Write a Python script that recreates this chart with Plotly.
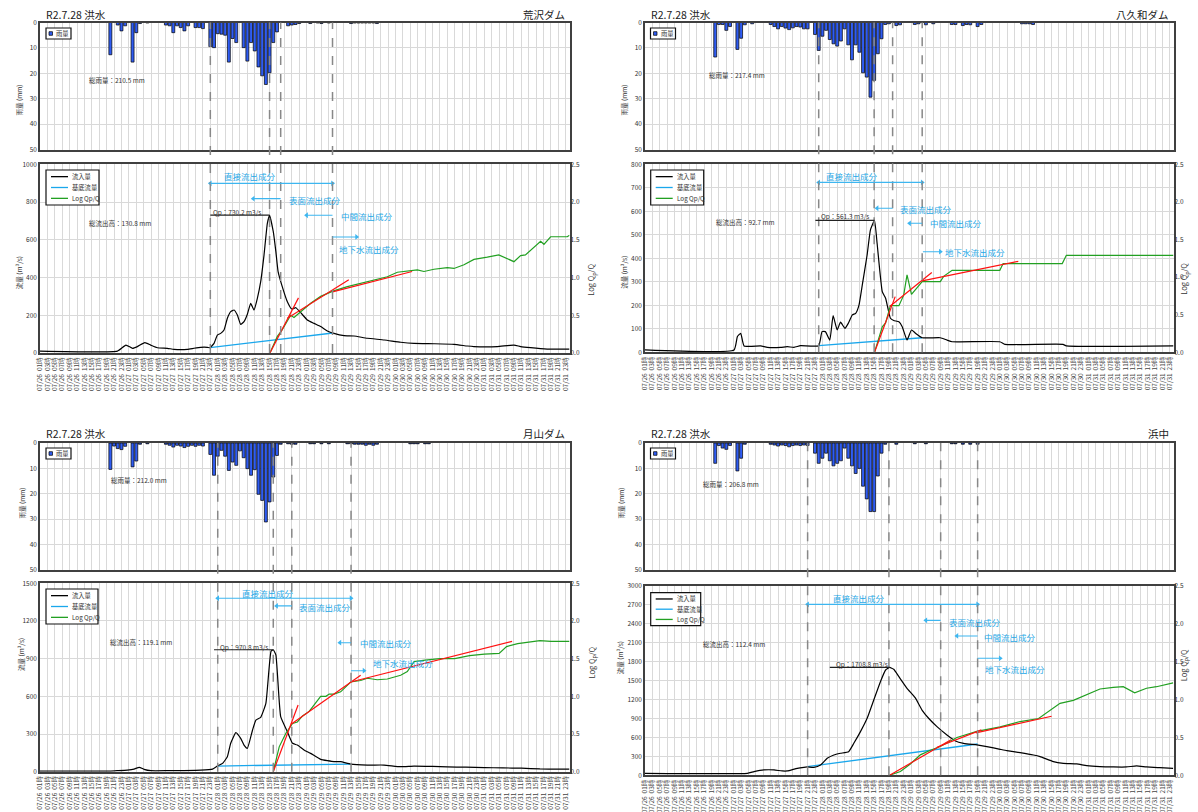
import plotly.graph_objects as go

W, H = 1198, 812
FONT = "Noto Sans CJK JP"
XMIN, XMAX = 0.0, 143.0

TICK_H = list(range(0, 143, 2))
TICK_TEXT = [f"07/{26 + h // 24}  {h % 24 + 1:02d}時" for h in TICK_H]

TITLE = "R2.7.28 洪水"

# ---------------- Panel 1 : 荒沢ダム ----------------
P1_NAME = "荒沢ダム"
P1_RAIN_H = [19, 21, 22, 23, 25, 26, 27, 29, 34, 35, 36, 37, 38, 39, 40, 42, 43, 44,
             46, 47, 48, 49, 50, 51, 52, 53, 55, 56, 57, 58, 59, 60, 61, 62, 63, 64,
             67, 68, 69, 70, 73, 75, 76, 78, 84, 85, 86, 87, 88, 89, 90, 91]
P1_RAIN = [12.7, 1.0, 3.3, 1.3, 15.6, 4.0, 0.4, 0.2, 1.0, 1.3, 4.0, 1.3, 2.0, 3.3, 1.3, 2.0, 2.0, 2.4,
           9.5, 9.9, 4.4, 4.6, 5.0, 15.6, 6.3, 7.9, 9.9, 15.2, 7.9, 11.2, 17.5, 21.0, 24.4, 19.8, 7.9, 3.7,
           1.3, 1.0, 0.8, 0.4, 0.4, 0.2, 0.4, 0.2, 0.4, 0.2, 0.2, 0.2, 0.2, 0.2, 0.2, 0.4]
P1_Q_H = [0, 20.9, 23.2, 25.0, 26.3, 28.3, 29.9, 31.7, 34.4, 36.2, 39.8, 41.6, 43.4, 45.2, 45.9,
          47.0, 47.9, 48.8, 49.7, 50.6, 51.5, 52.4, 53.3, 54.2, 55.1, 56.0, 56.9, 57.8, 58.7, 59.6,
          60.5, 61.4, 62.0, 63.0, 63.7, 64.3, 65.3, 66.8, 68.0, 69.1, 70.4, 72.2, 74.0, 75.8, 77.6,
          79.4, 82.1, 84.8, 88.4, 93.0, 97.4, 101.0, 106.4, 111.8, 115.4, 117.2, 123.5, 128.0,
          129.8, 132.5, 137.0, 142.4, 143.0]
P1_Q = [10, 10, 42, 25, 34, 55, 42, 28, 25, 19, 19, 25, 30, 30, 28,
        51, 95, 104, 122, 184, 219, 228, 201, 152, 166, 205, 263, 228, 290, 378,
        519, 687, 730, 643, 537, 431, 360, 272, 233, 240, 214, 175, 157, 140, 117,
        104, 92, 90, 78, 69, 57, 51, 49, 46, 37, 34, 34, 42,
        34, 28, 21, 21, 21]
P1_BASE_H = [45.9, 79.1]
P1_BASE = [28, 106]
P1_LOG_H = [62.1, 64.1, 65.3, 67.7, 68.6, 73.1, 75.8, 79.1, 83.0, 88.4, 93.8, 96.5, 99.2, 101.9,
            103.7, 106.4, 110.0, 111.8, 114.5, 117.2, 120.8, 123.9, 128.0, 129.8, 131.1, 132.5,
            135.2, 136.1, 137.9, 142.4, 143.0]
P1_LOG = [0.0, 0.22, 0.30, 0.50, 0.47, 0.66, 0.75, 0.82, 0.88, 0.945, 1.01, 1.07, 1.09, 1.10,
          1.08, 1.11, 1.13, 1.12, 1.17, 1.24, 1.27, 1.30, 1.21, 1.29, 1.30, 1.36,
          1.48, 1.44, 1.54, 1.54, 1.56]
P1_RED_H = [[62.1, 69.8], [66.8, 83.4], [79.0, 100.5]]
P1_RED = [[0.0, 0.73], [0.46, 0.97], [0.81, 1.08]]
P1_SPLIT_H = [46, 62, 65, 79]
P1_QP = 730.2
P1_QP_FROM_H = 46
P1_QP_H = 62
P1_TOTAL_RAIN = 210.5
P1_TOTAL_RUNOFF = 130.8
P1_QMAX, P1_QSTEP = 1000, 200

# ---------------- Panel 2 : 八久和ダム ----------------
P2_NAME = "八久和ダム"
P2_RAIN_H = [19, 20, 21, 22, 23, 25, 26, 27, 29, 34, 35, 36, 37, 38, 39, 40, 41, 42, 43, 44,
             46, 47, 48, 49, 50, 51, 52, 53, 54, 55, 56, 57, 58, 59, 60, 61, 62, 63, 64, 65, 66,
             68, 69, 73, 74, 76, 78, 83, 84, 86, 87, 88, 90, 91, 102, 103, 104, 105]
P2_RAIN = [13.6, 0.8, 0.8, 3.1, 1.6, 10.6, 6.2, 0.9, 0.5, 0.8, 1.6, 2.5, 1.6, 2.2, 2.8, 2.1, 1.6, 1.8, 2.5, 2.5,
           4.7, 11.0, 5.4, 3.1, 6.7, 8.4, 9.3, 7.3, 2.5, 8.8, 14.7, 8.8, 11.7, 19.8, 21.5, 29.4, 22.8, 12.3, 6.4, 0.8, 0.5,
           1.2, 0.9, 0.8, 0.5, 0.9, 0.5, 0.8, 0.8, 1.2, 0.8, 0.9, 1.6, 0.8, 0.5, 0.5, 0.5, 0.8]
P2_Q_H = [0, 24.1, 25.0, 25.9, 26.8, 31.3, 33.1, 36.7, 38.5, 40.3, 42.1, 47.0, 47.9, 48.8, 50.0,
          50.9, 52.0, 52.9, 54.1, 55.0, 56.1, 57.0, 57.9, 58.8, 60.1, 61.0, 62.1, 62.8, 64.2, 65.1,
          66.4, 67.3, 68.7, 69.6, 70.9, 72.1, 73.2, 75.0, 79.9, 81.7, 83.1, 96.0, 97.4, 113.1, 114.0, 143.0]
P2_Q = [10, 10, 67, 81, 27, 27, 21, 21, 24, 21, 28, 28, 88, 88, 52,
        156, 95, 128, 102, 123, 159, 166, 201, 287, 414, 521, 561, 464, 258, 230,
        145, 135, 130, 109, 52, 95, 81, 62, 62, 52, 45, 45, 34, 34, 27, 27]
P2_BASE_H = [47.0, 75.0]
P2_BASE = [28, 62]
P2_LOG_H = [62.1, 64.2, 65.1, 66.4, 68.7, 70.0, 70.9, 72.1, 75.0, 79.9, 80.8, 83.1, 96.0, 96.9,
            112.9, 114.0, 143.0]
P2_LOG = [0.0, 0.34, 0.39, 0.62, 0.62, 0.76, 1.03, 0.77, 0.94, 0.94, 1.01, 1.09, 1.09, 1.18,
          1.18, 1.29, 1.29]
P2_RED_H = [[62.1, 67.7], [66.2, 77.6], [75.0, 101.0]]
P2_RED = [[0.0, 0.74], [0.61, 1.06], [0.95, 1.21]]
P2_SPLIT_H = [47, 62, 67, 75]
P2_QP = 561.3
P2_QP_FROM_H = 46.1
P2_QP_H = 62.1
P2_TOTAL_RAIN = 217.4
P2_TOTAL_RUNOFF = 92.7
P2_QMAX, P2_QSTEP = 800, 100

# ---------------- Panel 3 : 月山ダム ----------------
P3_NAME = "月山ダム"
P3_RAIN_H = [19, 20, 21, 22, 23, 25, 26, 27, 29, 34, 35, 36, 37, 38, 39, 40, 41, 42, 43, 44,
             46, 47, 48, 49, 50, 51, 52, 53, 54, 55, 56, 57, 58, 59, 60, 61, 62, 63, 64, 65,
             67, 68, 69, 73, 74, 76, 78, 83, 84, 85, 86, 87, 88, 89, 90, 91, 100, 101, 102, 104, 105]
P3_RAIN = [10.4, 1.2, 2.2, 2.6, 1.3, 9.4, 7.1, 0.5, 0.3, 0.5, 0.9, 1.6, 0.9, 1.2, 1.8, 1.3, 0.9, 1.3, 0.9, 1.2,
           4.5, 12.7, 5.2, 2.9, 5.2, 10.8, 7.5, 8.8, 3.1, 5.8, 10.1, 12.7, 10.5, 20.2, 22.6, 31.1, 23.2, 13.4, 4.9, 0.5,
           0.3, 0.5, 0.5, 0.3, 0.3, 0.3, 0.3, 0.3, 0.3, 0.5, 0.5, 0.5, 0.9, 0.5, 0.9, 0.5, 0.3, 0.3, 0.3, 0.3, 0.3]
P3_Q_H = [0, 19.1, 20.9, 23.6, 25.4, 26.8, 28.1, 29.9, 34.4, 43.4, 46.6, 47.9, 49.3, 50.6, 51.5,
          52.9, 54.2, 55.1, 56.0, 57.4, 58.3, 59.6, 61.0, 62.4, 63.0, 63.7, 65.0, 66.8, 68.2, 69.5,
          71.3, 73.1, 75.8, 79.4, 81.2, 83.9, 88.4, 92.9, 97.4, 101.0, 106.0, 110.0, 115.0, 120.0,
          125.0, 130.0, 135.0, 140.0, 143.0]
P3_Q = [5, 5, 8, 13, 21, 35, 19, 8, 8, 13, 21, 45, 66, 119, 226,
        311, 265, 212, 186, 332, 411, 433, 544, 960, 971, 930, 438, 319, 226, 212,
        173, 146, 98, 80, 80, 61, 53, 53, 40, 45, 42, 38, 36, 33,
        30, 28, 22, 20, 20]
P3_BASE_H = [47.9, 84.0]
P3_BASE = [45, 61]
P3_LOG_H = [63.0, 64.6, 66.4, 68.2, 69.5, 70.9, 72.7, 74.5, 75.8, 77.2, 78.1, 79.4, 81.2, 83.9,
            86.6, 88.4, 91.1, 93.8, 95.6, 97.4, 99.2, 101.0, 104.0, 108.0, 112.0, 116.0, 120.0,
            124.0, 126.0, 129.0, 132.0, 135.0, 138.0, 143.0]
P3_LOG = [0.0, 0.33, 0.51, 0.64, 0.66, 0.74, 0.80, 0.91, 1.0, 1.0, 1.03, 1.03, 1.06, 1.19,
          1.21, 1.24, 1.22, 1.23, 1.26, 1.28, 1.33, 1.46, 1.48, 1.50, 1.50, 1.54, 1.56,
          1.57, 1.66, 1.70, 1.72, 1.74, 1.73, 1.73]
P3_RED_H = [[63.0, 69.7], [67.8, 86.6], [83.9, 127.5]]
P3_RED = [[0.0, 0.885], [0.63, 1.28], [1.19, 1.73]]
P3_SPLIT_H = [48, 63, 68, 84]
P3_QP = 970.8
P3_QP_FROM_H = 47.0
P3_QP_H = 63.0
P3_TOTAL_RAIN = 212.0
P3_TOTAL_RUNOFF = 119.1
P3_QMAX, P3_QSTEP = 1500, 300

# ---------------- Panel 4 : 浜中 ----------------
P4_NAME = "浜中"
P4_RAIN_H = [19, 20, 21, 22, 23, 25, 26, 27, 34, 35, 36, 37, 38, 39, 40, 41, 42, 43, 44,
             46, 47, 48, 49, 50, 51, 52, 53, 54, 55, 56, 57, 58, 59, 60, 61, 62, 63, 64, 65,
             68, 73, 76, 83, 84, 86, 88, 90]
P4_RAIN = [8, 1, 2, 2.5, 1, 11, 6, 0.5, 0.5, 0.8, 1.2, 0.8, 1, 1.5, 1, 0.8, 1, 0.8, 1,
           4, 8, 6, 4, 7, 9, 8, 7, 2, 6, 9, 12, 10, 17, 22, 27, 27, 13, 4, 0.5,
           0.5, 0.3, 0.3, 0.3, 0.3, 0.5, 0.5, 0.5]
P4_Q_H = [0, 27.7, 29.5, 32.2, 34.9, 37.1, 38.5, 41.2, 43.0, 43.9, 45.7, 47.5, 49.3, 51.1, 52.9,
          55.1, 56.5, 58.3, 60.1, 61.9, 63.7, 65.1, 66.2, 67.3, 68.7, 70.9, 73.1, 75.0, 76.8, 79.0,
          81.7, 84.0, 86.2, 89.8, 92.5, 96.1, 97.9, 101.5, 105.1, 106.9, 110.5, 113.2, 116.8, 119.5,
          123.1, 126.7, 130.3, 133.0, 135.7, 139.3, 142.9]
P4_Q = [32, 32, 58, 85, 85, 69, 69, 111, 127, 132, 127, 164, 269, 322, 349,
        375, 507, 692, 903, 1194, 1484, 1669, 1709, 1680, 1563, 1379, 1230, 1030, 900, 771,
        639, 544, 507, 481, 454, 412, 391, 359, 322, 296, 217, 190, 180, 153,
        137, 132, 132, 148, 132, 121, 111]
P4_BASE_H = [43.9, 90.0]
P4_BASE = [137, 496]
P4_LOG_H = [66.2, 69.1, 71.8, 74.5, 77.2, 79.9, 84.4, 89.8, 96.1, 101.5, 106.5, 109.6, 112.3,
            115.9, 118.6, 123.1, 126.7, 129.4, 132.5, 135.7, 138.4, 140.2, 142.9]
P4_LOG = [0.0, 0.05, 0.15, 0.27, 0.33, 0.38, 0.50, 0.58, 0.64, 0.71, 0.75, 0.86, 0.95,
          0.99, 1.05, 1.14, 1.16, 1.17, 1.09, 1.15, 1.17, 1.19, 1.22]
P4_RED_H = [[66.2, 82.8], [79.0, 91.0], [89.5, 110.0]]
P4_RED = [[0.0, 0.47], [0.37, 0.60], [0.56, 0.78]]
P4_SPLIT_H = [44, 66, 80, 90]
P4_QP = 1708.8
P4_QP_FROM_H = 50.0
P4_QP_H = 66.2
P4_TOTAL_RAIN = 206.8
P4_TOTAL_RUNOFF = 112.4
P4_QMAX, P4_QSTEP = 3000, 300

LEGEND_ITEMS = ["流入量", "基底流量", "Log Qp/Q"]
COMPONENTS = ["直接流出成分", "表面流出成分", "中間流出成分", "地下水流出成分"]

PANELS = [
    dict(name=P1_NAME, rain_h=P1_RAIN_H, rain=P1_RAIN, q_h=P1_Q_H, q=P1_Q, base_h=P1_BASE_H, base=P1_BASE,
         log_h=P1_LOG_H, log=P1_LOG, red_h=P1_RED_H, red=P1_RED, split=P1_SPLIT_H, qp=P1_QP,
         qp_from=P1_QP_FROM_H, qp_h=P1_QP_H, train=P1_TOTAL_RAIN, trun=P1_TOTAL_RUNOFF,
         qmax=P1_QMAX, qstep=P1_QSTEP),
    dict(name=P2_NAME, rain_h=P2_RAIN_H, rain=P2_RAIN, q_h=P2_Q_H, q=P2_Q, base_h=P2_BASE_H, base=P2_BASE,
         log_h=P2_LOG_H, log=P2_LOG, red_h=P2_RED_H, red=P2_RED, split=P2_SPLIT_H, qp=P2_QP,
         qp_from=P2_QP_FROM_H, qp_h=P2_QP_H, train=P2_TOTAL_RAIN, trun=P2_TOTAL_RUNOFF,
         qmax=P2_QMAX, qstep=P2_QSTEP),
    dict(name=P3_NAME, rain_h=P3_RAIN_H, rain=P3_RAIN, q_h=P3_Q_H, q=P3_Q, base_h=P3_BASE_H, base=P3_BASE,
         log_h=P3_LOG_H, log=P3_LOG, red_h=P3_RED_H, red=P3_RED, split=P3_SPLIT_H, qp=P3_QP,
         qp_from=P3_QP_FROM_H, qp_h=P3_QP_H, train=P3_TOTAL_RAIN, trun=P3_TOTAL_RUNOFF,
         qmax=P3_QMAX, qstep=P3_QSTEP),
    dict(name=P4_NAME, rain_h=P4_RAIN_H, rain=P4_RAIN, q_h=P4_Q_H, q=P4_Q, base_h=P4_BASE_H, base=P4_BASE,
         log_h=P4_LOG_H, log=P4_LOG, red_h=P4_RED_H, red=P4_RED, split=P4_SPLIT_H, qp=P4_QP,
         qp_from=P4_QP_FROM_H, qp_h=P4_QP_H, train=P4_TOTAL_RAIN, trun=P4_TOTAL_RUNOFF,
         qmax=P4_QMAX, qstep=P4_QSTEP),
]

# ---------------- placement (pixels / hours) ----------------
LAYOUTS = [
    dict(x0=40, x1=569.5, rain=(22.5, 149.5), flow=(164.3, 353.0), title_y=14, ytitle_x=12, rtitle_x=592,
         leg=(46, 170, 53, 35), rleg=(46, 28, 25, 11),
         txt=dict(qp=(46.1, 749), trun=(12.7, 690), train=(12.7, 22.8),
                  c0=(49.1, 938), c0a=(46, 79, 899),
                  c1=(66.6, 811), c1a=(65, 57.6, 818),
                  c2=(80.7, 726), c2a=(79, 72.0, 730),
                  c3=(80.3, 551), c3a=(79, 85.5, 615))),
    dict(x0=645, x1=1173.5, rain=(22.5, 149.5), flow=(164.3, 352.3), title_y=14, ytitle_x=624, rtitle_x=1193,
         leg=(650.7, 170, 53, 35), rleg=(650.5, 28, 25, 11),
         txt=dict(qp=(47.0, 580), trun=(18.6, 556), train=(16.9, 20.5),
                  c0=(48.4, 750), c0a=(47, 75, 723),
                  c1=(68.4, 610), c1a=(67, 62.8, 613),
                  c2=(76.7, 549), c2a=(75, 71.6, 549),
                  c3=(80.7, 426), c3a=(75.2, 79.9, 428))),
    dict(x0=40, x1=569.5, rain=(443.0, 570.0), flow=(583.3, 771.7), title_y=434, ytitle_x=14, rtitle_x=592,
         leg=(46, 589, 52, 35), rleg=(46, 448, 25, 11),
         txt=dict(qp=(48.1, 995), trun=(18.3, 1035), train=(18.7, 14.7),
                  c0=(54.0, 1426), c0a=(48, 84, 1381),
                  c1=(69.5, 1314), c1a=(68, 63.9, 1320),
                  c2=(85.9, 1027), c2a=(84, 81.0, 1027),
                  c3=(89.3, 868), c3a=(84, 87.5, 804))),
    dict(x0=645, x1=1173.5, rain=(443.0, 570.0), flow=(586.0, 775.3), title_y=434, ytitle_x=620, rtitle_x=1193,
         leg=(650.7, 592.7, 50, 33), rleg=(650.5, 448, 25, 11),
         txt=dict(qp=(51.1, 1764), trun=(15.1, 2081), train=(15.1, 16.0),
                  c0=(50.4, 2804), c0a=(44, 90, 2709),
                  c1=(81.7, 2434), c1a=(80, 76.0, 2456),
                  c2=(91.1, 2186), c2a=(90, 84.4, 2208),
                  c3=(91.4, 1680), c3a=(90, 96.1, 1854))),
]

GRID = "#D9D9D9"
AXC = "#404040"
TXT = "#333333"
BLACK = "#000000"
BASEC = "#1AA7EC"
GREEN = "#22A022"
RED = "#FF1010"
BARC = "#2F5CF2"
CYAN_TXT = "#1FA8E6"
ARROWC = "#3DB6F0"


def px_x(x):
    return x / W


def px_y(y):
    return 1 - y / H


def axname(p, n):
    return f"{p}axis" if n == 1 else f"{p}axis{n}"


def axref(p, n):
    return p if n == 1 else f"{p}{n}"


fig = go.Figure()
layout = dict(width=W, height=H, margin=dict(l=0, r=0, t=0, b=0, autoexpand=False),
              paper_bgcolor="white", plot_bgcolor="white", showlegend=False,
              font=dict(family=FONT, size=7, color=TXT))
shapes = []
annots = []

for k, (P, L) in enumerate(zip(PANELS, LAYOUTS)):
    nr, nf, nl = 3 * k + 1, 3 * k + 2, 3 * k + 3
    rx, ry = axref("x", nr), axref("y", nr)
    fx, fy, ly = axref("x", nf), axref("y", nf), axref("y", nl)
    xdom = [px_x(L["x0"]), px_x(L["x1"])]
    rdom = [px_y(L["rain"][1]), px_y(L["rain"][0])]
    fdom = [px_y(L["flow"][1]), px_y(L["flow"][0])]

    common_x = dict(domain=xdom, range=[XMIN, XMAX], tickvals=TICK_H, showgrid=True, gridcolor=GRID,
                    gridwidth=1.3, showline=True, linecolor=AXC, linewidth=1.6, mirror=True,
                    zeroline=False, ticks="", fixedrange=True, automargin=False)
    layout[axname("x", nr)] = dict(common_x, anchor=ry, showticklabels=False)
    layout[axname("y", nr)] = dict(domain=rdom, range=[50, 0], tick0=0, dtick=10, anchor=rx,
                                   showgrid=True, gridcolor=GRID, gridwidth=1.3, showline=True,
                                   linecolor=AXC, linewidth=1.6, mirror=True, zeroline=False,
                                   ticks="", tickfont=dict(size=6.5, color=TXT), fixedrange=True,
                                   automargin=False)
    layout[axname("x", nf)] = dict(common_x, anchor=fy, ticktext=TICK_TEXT, tickangle=-90,
                                   tickfont=dict(size=6.5, color="#444444"))
    layout[axname("y", nf)] = dict(domain=fdom, range=[0, P["qmax"]], tick0=0, dtick=P["qstep"],
                                   anchor=fx, showgrid=True, gridcolor=GRID, gridwidth=1.3,
                                   showline=True, linecolor=AXC, linewidth=1.6, mirror=True,
                                   zeroline=False, ticks="", tickfont=dict(size=6.5, color=TXT),
                                   fixedrange=True, automargin=False)
    layout[axname("y", nl)] = dict(overlaying=fy, side="right", anchor=fx, range=[0, 2.5], tick0=0,
                                   dtick=0.5, tickformat=".1f", showgrid=False, showline=False,
                                   zeroline=False, ticks="", tickfont=dict(size=6.5, color=TXT),
                                   fixedrange=True, automargin=False)

    # rain bars
    fig.add_trace(go.Bar(x=P["rain_h"], y=P["rain"], xaxis=rx, yaxis=ry, width=0.8,
                         marker=dict(color=BARC, line=dict(color=BLACK, width=0.7))))
    # flows
    fig.add_trace(go.Scatter(x=P["base_h"], y=P["base"], xaxis=fx, yaxis=fy, mode="lines",
                             line=dict(color=BASEC, width=1.3)))
    fig.add_trace(go.Scatter(x=P["q_h"], y=P["q"], xaxis=fx, yaxis=fy, mode="lines",
                             line=dict(color=BLACK, width=1.2, shape="spline", smoothing=0.4)))
    fig.add_trace(go.Scatter(x=P["log_h"], y=P["log"], xaxis=fx, yaxis=ly, mode="lines",
                             line=dict(color=GREEN, width=1.2)))
    rxs, rys = [], []
    for hs, vs in zip(P["red_h"], P["red"]):
        rxs += hs + [None]
        rys += vs + [None]
    fig.add_trace(go.Scatter(x=rxs, y=rys, xaxis=fx, yaxis=ly, mode="lines",
                             line=dict(color=RED, width=1.2)))

    # separation dashed lines spanning rain and flow plots
    for h in P["split"]:
        xp = xdom[0] + (h - XMIN) / (XMAX - XMIN) * (xdom[1] - xdom[0])
        shapes.append(dict(type="line", xref="paper", yref="paper", x0=xp, x1=xp,
                           y0=fdom[0], y1=rdom[1], layer="above",
                           line=dict(color="#888888", width=1.5, dash="dash")))

    # Qp line
    shapes.append(dict(type="line", xref=fx, yref=fy, x0=P["qp_from"], x1=P["qp_h"],
                       y0=P["qp"], y1=P["qp"], layer="above", line=dict(color="#222222", width=1.2)))
    T = L["txt"]
    annots.append(dict(xref=fx, yref=fy, x=T["qp"][0], y=T["qp"][1], text=f"Qp：{P['qp']:.1f} m3/s",
                       showarrow=False, xanchor="left", yanchor="middle", font=dict(size=6.5, color=TXT)))
    annots.append(dict(xref=fx, yref=fy, x=T["trun"][0], y=T["trun"][1],
                       text=f"総流出高：{P['trun']:.1f} mm", showarrow=False, xanchor="left",
                       yanchor="middle", font=dict(size=6.5, color=TXT)))
    annots.append(dict(xref=rx, yref=ry, x=T["train"][0], y=T["train"][1],
                       text=f"総雨量：{P['train']:.1f} mm", showarrow=False,
                       xanchor="left", yanchor="middle", font=dict(size=6.5, color=TXT)))
    # component labels and arrows (line shapes + triangle heads)
    head_x, head_y, head_sym = [], [], []
    for i, name in enumerate(COMPONENTS):
        tx, ty = T[f"c{i}"]
        annots.append(dict(xref=fx, yref=fy, x=tx, y=ty, text=name, showarrow=False, xanchor="left",
                           yanchor="middle", font=dict(size=8.5, color=CYAN_TXT)))
        a0, a1, ay = T[f"c{i}a"]
        shapes.append(dict(type="line", xref=fx, yref=fy, x0=a0, x1=a1, y0=ay, y1=ay, layer="above",
                           line=dict(color=ARROWC, width=1.1)))
        head_x.append(a1)
        head_y.append(ay)
        head_sym.append("triangle-right" if a1 > a0 else "triangle-left")
        if i == 0:
            head_x.append(a0)
            head_y.append(ay)
            head_sym.append("triangle-left" if a1 > a0 else "triangle-right")
    fig.add_trace(go.Scatter(x=head_x, y=head_y, xaxis=fx, yaxis=fy, mode="markers",
                             marker=dict(symbol=head_sym, size=5, color=ARROWC, line=dict(width=0))))

    # titles
    annots.append(dict(xref="paper", yref="paper", x=px_x(L["x0"] + 4), y=px_y(L["title_y"]),
                       text=TITLE, showarrow=False, xanchor="left", yanchor="middle",
                       font=dict(size=10.5, color="#222222")))
    annots.append(dict(xref="paper", yref="paper", x=px_x(L["x1"] - 3), y=px_y(L["title_y"]),
                       text=P["name"], showarrow=False, xanchor="right", yanchor="middle",
                       font=dict(size=10.5, color="#222222")))
    # axis titles
    annots.append(dict(xref="paper", yref="paper", x=px_x(L["ytitle_x"]),
                       y=px_y((L["rain"][0] + L["rain"][1]) / 2 - 3), text="雨量 (mm)",
                       textangle=-90, showarrow=False, font=dict(size=6.5, color=TXT)))
    annots.append(dict(xref="paper", yref="paper", x=px_x(L["ytitle_x"]),
                       y=px_y((L["flow"][0] + L["flow"][1]) / 2 - 4), text="流量 (m³/s)",
                       textangle=-90, showarrow=False, font=dict(size=6.5, color=TXT)))
    annots.append(dict(xref="paper", yref="paper", x=px_x(L["rtitle_x"]),
                       y=px_y((L["flow"][0] + L["flow"][1]) / 2 + 3), text="Log Q<sub>p</sub>/Q",
                       textangle=-90, showarrow=False, font=dict(size=7.5, color=TXT)))

    # flow legend box
    lx, lyy, lw, lh = L["leg"]
    shapes.append(dict(type="rect", xref="paper", yref="paper", x0=px_x(lx), x1=px_x(lx + lw),
                       y0=px_y(lyy + lh), y1=px_y(lyy), line=dict(color="#111111", width=1.2),
                       fillcolor="white", layer="above"))
    for j, (lab, col) in enumerate(zip(LEGEND_ITEMS, [BLACK, BASEC, GREEN])):
        yy = lyy + lh * (0.19 + 0.31 * j)
        shapes.append(dict(type="line", xref="paper", yref="paper", x0=px_x(lx + 5), x1=px_x(lx + 22),
                           y0=px_y(yy), y1=px_y(yy), line=dict(color=col, width=1.3), layer="above"))
        annots.append(dict(xref="paper", yref="paper", x=px_x(lx + 24), y=px_y(yy), text=lab,
                           showarrow=False, xanchor="left", yanchor="middle",
                           font=dict(size=6.3, color=TXT)))
    # rain legend box
    qx, qy, qw, qh = L["rleg"]
    shapes.append(dict(type="rect", xref="paper", yref="paper", x0=px_x(qx), x1=px_x(qx + qw),
                       y0=px_y(qy + qh), y1=px_y(qy), line=dict(color="#111111", width=1.2),
                       fillcolor="white", layer="above"))
    shapes.append(dict(type="rect", xref="paper", yref="paper", x0=px_x(qx + 3), x1=px_x(qx + 6.5),
                       y0=px_y(qy + qh / 2 + 1.8), y1=px_y(qy + qh / 2 - 1.8),
                       line=dict(color=BLACK, width=0.7), fillcolor=BARC, layer="above"))
    annots.append(dict(xref="paper", yref="paper", x=px_x(qx + 8), y=px_y(qy + qh / 2), text="雨量",
                       showarrow=False, xanchor="left", yanchor="middle", font=dict(size=6.3, color=TXT)))

layout["shapes"] = shapes
layout["annotations"] = annots
layout["bargap"] = 0.1
fig.update_layout(**layout)
fig.write_html("out.html")
